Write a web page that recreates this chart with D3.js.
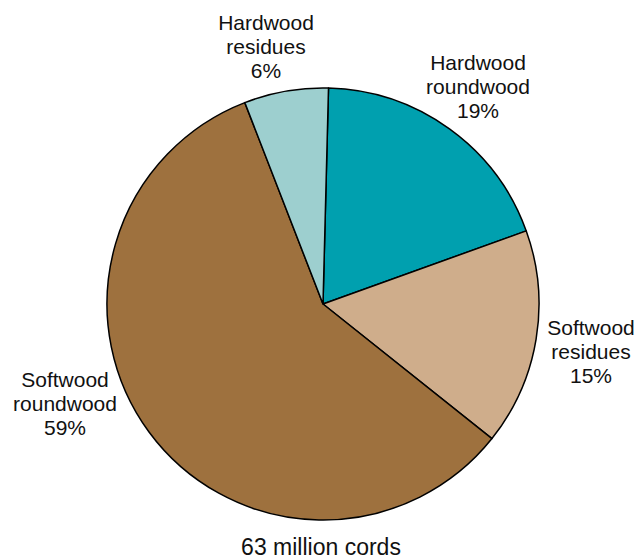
<!DOCTYPE html>
<html>
<head>
<meta charset="utf-8">
<script src="https://cdn.jsdelivr.net/npm/d3@7"></script>
<style>
  body { margin: 0; background: #fff; }
  text { font-family: "Liberation Sans", Arial, Helvetica, sans-serif; fill: #111; }
</style>
</head>
<body>
<svg id="pie" width="639" height="560"></svg>
<script>
// slices, clockwise from the top
const categories = ["Hardwood roundwood", "Softwood residues", "Softwood roundwood", "Hardwood residues"];
const shares = [19.1, 16.2, 58.4, 6.3];          // measured from slice angles
const pctLabels = ["19%", "15%", "59%", "6%"];   // as printed
const colors = ["#00a0af", "#cfad8b", "#9e713e", "#9dcfcf"];
const total = "63 million cords";

// label block centres (layout only)
const labelAt = [[478, 87], [591, 352], [65, 404], [266, 47]];

let width = 639, height = 560,
  cx = 323, cy = 304, r = 216;

let svg = d3.select("#pie");
let g = svg.append("g").attr("transform", `translate(${cx}, ${cy})`);

let data = categories.map((c, i) => ({name: c, value: shares[i], pct: pctLabels[i], color: colors[i]}));

let pie = d3.pie()
  .sort(null)
  .value(d => d.value)
  .startAngle(1.46 * Math.PI / 180)
  .endAngle(1.46 * Math.PI / 180 + 2 * Math.PI);

let arc = d3.arc().innerRadius(0).outerRadius(r);

g.selectAll("path")
  .data(pie(data))
  .join("path")
  .attr("d", arc)
  .attr("fill", d => d.data.color)
  .attr("stroke", "#000")
  .attr("stroke-width", 1.5)
  .attr("stroke-linejoin", "round");

// Labels
let lineH = 24;
data.forEach((d, i) => {
  let words = d.name.split(" ");
  let lines = [words[0], words[1], d.pct];
  let t = svg.append("text")
    .attr("text-anchor", "middle")
    .style("font-size", "21px");
  lines.forEach((ln, j) => {
    t.append("tspan")
      .attr("x", labelAt[i][0])
      .attr("y", labelAt[i][1] + (j - 1) * lineH + 7)
      .text(ln);
  });
});

svg.append("text")
  .attr("x", 321)
  .attr("y", 555)
  .attr("text-anchor", "middle")
  .style("font-size", "23px")
  .text(total);
</script>
</body>
</html>
